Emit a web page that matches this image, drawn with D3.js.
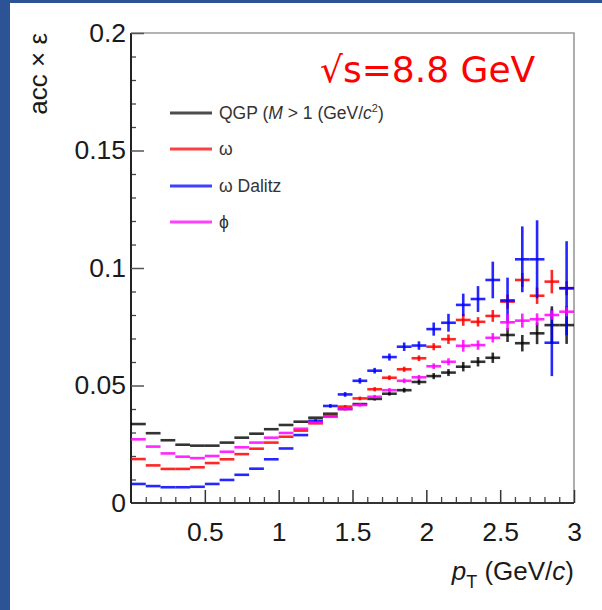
<!DOCTYPE html>
<html><head><meta charset="utf-8">
<script src="https://cdn.jsdelivr.net/npm/d3@7"></script>
<style>body{margin:0;background:#fff}svg{display:block}</style>
</head><body>
<svg id="c" width="602" height="610"></svg>
<script>
// pT bin low edges (GeV/c), bin width 0.1
const binLow = [0.0,0.1,0.2,0.3,0.4,0.5,0.6,0.7,0.8,0.9,1.0,1.1,1.2,1.3,1.4,1.5,1.6,1.7,1.8,1.9,2.0,2.1,2.2,2.3,2.4,2.5,2.6,2.7,2.8,2.9];
const binWidth = 0.1;

const qgp    = [0.0336,0.0297,0.0267,0.0248,0.0244,0.0244,0.0257,0.0278,0.0295,0.0314,0.0332,0.0346,0.0363,0.0380,0.0400,0.0421,0.0443,0.0465,0.0480,0.0515,0.0540,0.0555,0.0580,0.0601,0.0618,0.0715,0.0680,0.0722,0.0757,0.0757];
const qgpErr = [0.0003,0.0003,0.0003,0.0003,0.0003,0.0003,0.0003,0.0003,0.0003,0.0003,0.0003,0.0003,0.0004,0.0004,0.0005,0.0006,0.0007,0.0008,0.0010,0.0012,0.0013,0.0015,0.0020,0.0020,0.0022,0.0030,0.0035,0.0046,0.0080,0.0080];

const omega    = [0.0187,0.0160,0.0145,0.0145,0.0152,0.0170,0.0186,0.0208,0.0231,0.0257,0.0282,0.0308,0.0339,0.0370,0.0410,0.0445,0.0484,0.0533,0.0569,0.0616,0.0665,0.0697,0.0779,0.0771,0.0796,0.0857,0.0949,0.0882,0.0942,0.0914];
const omegaErr = [0.0003,0.0003,0.0003,0.0003,0.0003,0.0003,0.0003,0.0003,0.0003,0.0003,0.0003,0.0004,0.0005,0.0006,0.0007,0.0008,0.0009,0.0010,0.0011,0.0012,0.0015,0.0020,0.0025,0.0020,0.0025,0.0030,0.0030,0.0035,0.0050,0.0030];

const omegaDalitz    = [0.0081,0.0072,0.0067,0.0067,0.0069,0.0081,0.0098,0.0120,0.0146,0.0186,0.0232,0.0289,0.0350,0.0413,0.0462,0.0520,0.0563,0.0621,0.0665,0.0670,0.0740,0.0767,0.0843,0.0868,0.0949,0.0862,0.1037,0.1037,0.0682,0.0914];
const omegaDalitzErr = [0.0003,0.0003,0.0003,0.0003,0.0003,0.0003,0.0003,0.0003,0.0004,0.0004,0.0005,0.0006,0.0007,0.0008,0.0010,0.0012,0.0012,0.0015,0.0018,0.0018,0.0028,0.0038,0.0048,0.0055,0.0078,0.0097,0.0140,0.0166,0.0142,0.0200];

const phi    = [0.0271,0.0240,0.0211,0.0197,0.0191,0.0200,0.0218,0.0237,0.0257,0.0278,0.0298,0.0316,0.0342,0.0367,0.0400,0.0417,0.0452,0.0480,0.0520,0.0535,0.0582,0.0601,0.0669,0.0672,0.0703,0.0769,0.0776,0.0782,0.0800,0.0814];
const phiErr = [0.0003,0.0003,0.0003,0.0003,0.0003,0.0003,0.0003,0.0003,0.0003,0.0003,0.0003,0.0004,0.0005,0.0006,0.0007,0.0007,0.0008,0.0009,0.0010,0.0010,0.0012,0.0015,0.0025,0.0020,0.0020,0.0035,0.0030,0.0025,0.0020,0.0020];

const seriesNames  = ["QGP", "ω", "ω Dalitz", "ϕ"];
const seriesColors = ["#000000", "#ff0000", "#0000ff", "#ff00ff"];

const xTickValues = [0.5, 1, 1.5, 2, 2.5, 3];
const xTickLabels = ["0.5", "1", "1.5", "2", "2.5", "3"];
const yTickValues = [0, 0.05, 0.1, 0.15, 0.2];
const yTickLabels = ["0", "0.05", "0.1", "0.15", "0.2"];

const svg = d3.select("#c");
svg.append("rect").attr("x",0).attr("y",0).attr("width",602).attr("height",610).attr("fill","#fff");
svg.append("rect").attr("x",0).attr("y",0).attr("width",10).attr("height",610).attr("fill","#2c5395");
svg.append("rect").attr("x",0).attr("y",0).attr("width",602).attr("height",3).attr("fill","#2c5395");

const L = 131, R = 574, T = 33, B = 503;
const x = d3.scaleLinear().domain([0, 3]).range([L, R]);
const y = d3.scaleLinear().domain([0, 0.2]).range([B, T]);
const font = "Liberation Sans, Arial, sans-serif";

svg.append("path").attr("d", `M${L},${T}H${R}V${B}`).attr("fill","none").attr("stroke","#9a9a9a").attr("stroke-width",1.6);

const xMinor = d3.range(1, 30).map(i => i / 10).filter(v => Math.abs(v*2 - Math.round(v*2)) > 1e-6);
svg.append("g").attr("transform", `translate(0,${B})`)
  .call(d3.axisBottom(x).tickValues(xMinor).tickSize(-6).tickFormat(""))
  .call(g => { g.select(".domain").remove(); g.selectAll("line").attr("stroke","#444").attr("stroke-width",1.3); });
const yMinor = d3.range(1, 20).map(i => i / 100).filter(v => Math.abs(v*20 - Math.round(v*20)) > 1e-6);
svg.append("g").attr("transform", `translate(${L},0)`)
  .call(d3.axisLeft(y).tickValues(yMinor).tickSize(-5).tickFormat(""))
  .call(g => { g.select(".domain").remove(); g.selectAll("line").attr("stroke","#444").attr("stroke-width",1.3); });

const xAxis = svg.append("g").attr("transform", `translate(0,${B})`)
  .call(d3.axisBottom(x).tickValues(xTickValues).tickSize(-13).tickPadding(19)
        .tickFormat((d,i) => xTickLabels[i]));
xAxis.select(".domain").attr("d", `M${L},0H${R}`).attr("stroke","#333").attr("stroke-width",2);
xAxis.selectAll("line").attr("stroke","#333").attr("stroke-width",1.5);
xAxis.selectAll("text").attr("font-family",font)
  .attr("font-size",26.5).attr("fill","#1a1a1a").attr("dy","0.71em");

const yAxis = svg.append("g").attr("transform", `translate(${L},0)`)
  .call(d3.axisLeft(y).tickValues(yTickValues).tickSize(-13).tickPadding(20)
        .tickFormat((d,i) => yTickLabels[i]));
yAxis.select(".domain").attr("d", `M0,${T}V${B}`).attr("stroke","#222").attr("stroke-width",2);
yAxis.selectAll("line").attr("stroke","#555").attr("stroke-width",1.5);
yAxis.selectAll("text").attr("font-family",font)
  .attr("font-size",26.5).attr("fill","#1a1a1a").attr("x",-5);
yAxis.selectAll(".tick").filter(d => d === 0).select("line").remove();

svg.append("text").attr("transform","translate(47,33) rotate(-90)")
  .attr("text-anchor","end").attr("font-family",font)
  .attr("font-size",26).attr("fill","#1a1a1a").text("acc × ε");
const xt = svg.append("text").attr("x", R).attr("y", 580).attr("text-anchor","end")
  .attr("font-family",font).attr("font-size",26).attr("fill","#1a1a1a");
xt.append("tspan").attr("font-style","italic").text("p");
xt.append("tspan").attr("font-size",18).attr("dy",8).text("T");
xt.append("tspan").attr("dy",-8).text(" (GeV/");
xt.append("tspan").attr("font-style","italic").text("c");
xt.append("tspan").text(")");

const allSeries = [
  {v: qgp, e: qgpErr},
  {v: omega, e: omegaErr},
  {v: omegaDalitz, e: omegaDalitzErr},
  {v: phi, e: phiErr}
];
allSeries.forEach((s, si) => {
  const g = svg.append("g").attr("stroke", seriesColors[si]).attr("stroke-width", 2.6)
    .attr("stroke-opacity", si === 0 ? 0.8 : 0.85).attr("fill","none");
  binLow.forEach((lo, i) => {
    g.append("line").attr("x1", x(lo)).attr("x2", x(lo + binWidth))
      .attr("y1", y(s.v[i])).attr("y2", y(s.v[i]));
    const ey = y(s.v[i] - s.e[i]) - y(s.v[i] + s.e[i]);
    if (ey > 3) {
      g.append("line").attr("x1", x(lo + binWidth/2)).attr("x2", x(lo + binWidth/2))
        .attr("y1", y(s.v[i] - s.e[i])).attr("y2", y(s.v[i] + s.e[i]));
    }
  });
});

const legY = [113, 149, 186, 222];
seriesNames.forEach((n, i) => {
  svg.append("line").attr("x1",170).attr("x2",212).attr("y1",legY[i]).attr("y2",legY[i])
    .attr("stroke", seriesColors[i]).attr("stroke-width",3).attr("stroke-opacity", i===0?0.7:0.75);
});
const l0 = svg.append("text").attr("x",219).attr("y",legY[0]+6).attr("font-family",font).attr("font-size",17.5).attr("fill","#333");
l0.append("tspan").text("QGP (");
l0.append("tspan").attr("font-style","italic").text("M");
l0.append("tspan").text(" > 1 (GeV/");
l0.append("tspan").attr("font-style","italic").text("c");
l0.append("tspan").attr("font-size",11).attr("dy",-7).text("2");
l0.append("tspan").attr("dy",7).text(")");
[1,2,3].forEach(i => {
  svg.append("text").attr("x",219).attr("y",legY[i]+6).attr("font-family",font)
    .attr("font-size",17.5).attr("fill","#333").text(seriesNames[i]);
});

svg.append("text").attr("x",320).attr("y",82).attr("font-family","DejaVu Sans, Verdana, sans-serif")
  .attr("font-size",36).attr("fill","#ff0000").text("√s=8.8 GeV");
</script>
</body></html>
